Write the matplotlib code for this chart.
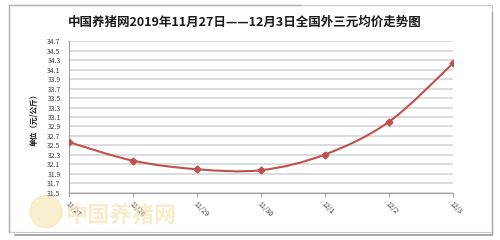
import matplotlib
matplotlib.use("Agg")
import matplotlib.pyplot as plt
import numpy as np
from matplotlib.path import Path
from matplotlib.patches import PathPatch, Rectangle, Ellipse
from matplotlib.lines import Line2D

plt.rcParams['font.family'] = ['Noto Sans CJK SC', 'DejaVu Sans']

dates = ['11/27', '11/28', '11/29', '11/30', '12/1', '12/2', '12/3']
prices = [32.57, 32.18, 32.00, 31.98, 32.31, 33.00, 34.23]
yticks = [31.5, 31.7, 31.9, 32.1, 32.3, 32.5, 32.7, 32.9, 33.1, 33.3, 33.5,
          33.7, 33.9, 34.1, 34.3, 34.5, 34.7]
title = '中国养猪网2019年11月27日——12月3日全国外三元均价走势图'
ylabel = '单位（元/公斤）'

fig = plt.figure(figsize=(5.0, 2.4), dpi=100)
fig.patch.set_facecolor('white')

# outer frame
fig.add_artist(Rectangle((0.018, 0.035), 0.966, 0.945, transform=fig.transFigure,
                         fill=False, edgecolor='#C8C8C8', linewidth=0.8))
fig.add_artist(Line2D([0.03, 0.984], [0.02, 0.02], transform=fig.transFigure,
                      color='#9A9A9A', linewidth=1.2))
fig.add_artist(Line2D([0.984, 0.984], [0.02, 0.95], transform=fig.transFigure,
                      color='#AAAAAA', linewidth=1.0))
fig.add_artist(Line2D([0.018, 0.6], [0.98, 0.98], transform=fig.transFigure,
                      color='#B0B0B0', linewidth=1.0))
fig.add_artist(Line2D([0.018, 0.018], [0.035, 0.98], transform=fig.transFigure,
                      color='#B0B0B0', linewidth=1.0))

# watermark
fig.add_artist(Ellipse((0.092, 0.118), 0.064, 0.1333, transform=fig.transFigure,
                       color='#F3E2A8', alpha=0.55, zorder=0))
fig.text(0.13, 0.103, '中国养猪网', ha='left', va='center', fontsize=16,
         fontweight='bold', color='#F3E2A8', alpha=0.6, zorder=0)

ax = fig.add_axes([0.138, 0.196, 0.768, 0.633])
ax.patch.set_alpha(0)
x = np.arange(len(dates))
y = np.array(prices)

# smooth curve (Catmull-Rom style bezier through the data points)
verts = [(x[0], y[0])]
codes = [Path.MOVETO]
n = len(x)
for i in range(n - 1):
    p0 = np.array([x[max(i - 1, 0)], y[max(i - 1, 0)]])
    p1 = np.array([x[i], y[i]])
    p2 = np.array([x[i + 1], y[i + 1]])
    p3 = np.array([x[min(i + 2, n - 1)], y[min(i + 2, n - 1)]])
    c1 = p1 + (p2 - p0) / 6.0
    c2 = p2 - (p3 - p1) / 6.0
    verts += [tuple(c1), tuple(c2), tuple(p2)]
    codes += [Path.CURVE4] * 3
ax.add_patch(PathPatch(Path(verts, codes), facecolor='none',
                       edgecolor='#C0504D', linewidth=1.5, zorder=3))
ax.plot(x, y, linestyle='none', marker='D', markersize=3.5,
        color='#C0504D', zorder=4)

ax.set_xlim(0, len(dates) - 1)
ax.set_ylim(yticks[0], yticks[-1])
ax.set_yticks(yticks)
ax.set_yticklabels([f'{v:.1f}' for v in yticks], fontsize=5, color='#404040')
ax.set_xticks(x)
ax.set_xticklabels(dates, fontsize=5, color='#404040', rotation=-45,
                   ha='left', va='top', rotation_mode='anchor')
ax.grid(axis='y', color='#D9D9D9', linewidth=1.3)
ax.set_axisbelow(True)
for s in ['top', 'right']:
    ax.spines[s].set_visible(False)
ax.spines['left'].set_color('#A0A0A0')
ax.spines['bottom'].set_color('#A0A0A0')
ax.spines['left'].set_linewidth(0.8)
ax.spines['bottom'].set_linewidth(0.8)
ax.tick_params(axis='y', length=0, pad=6)
ax.tick_params(axis='x', length=3, color='#A0A0A0', direction='out', pad=2)

fig.text(0.49, 0.905, title, ha='center', va='center', fontsize=9,
         fontweight='bold', color='#1A1A1A')
fig.text(0.068, 0.51, ylabel, ha='center', va='center', rotation=90,
         fontsize=5.5, fontweight='bold', color='#1A1A1A')

fig.savefig('out.png', dpi=100, facecolor='white')
